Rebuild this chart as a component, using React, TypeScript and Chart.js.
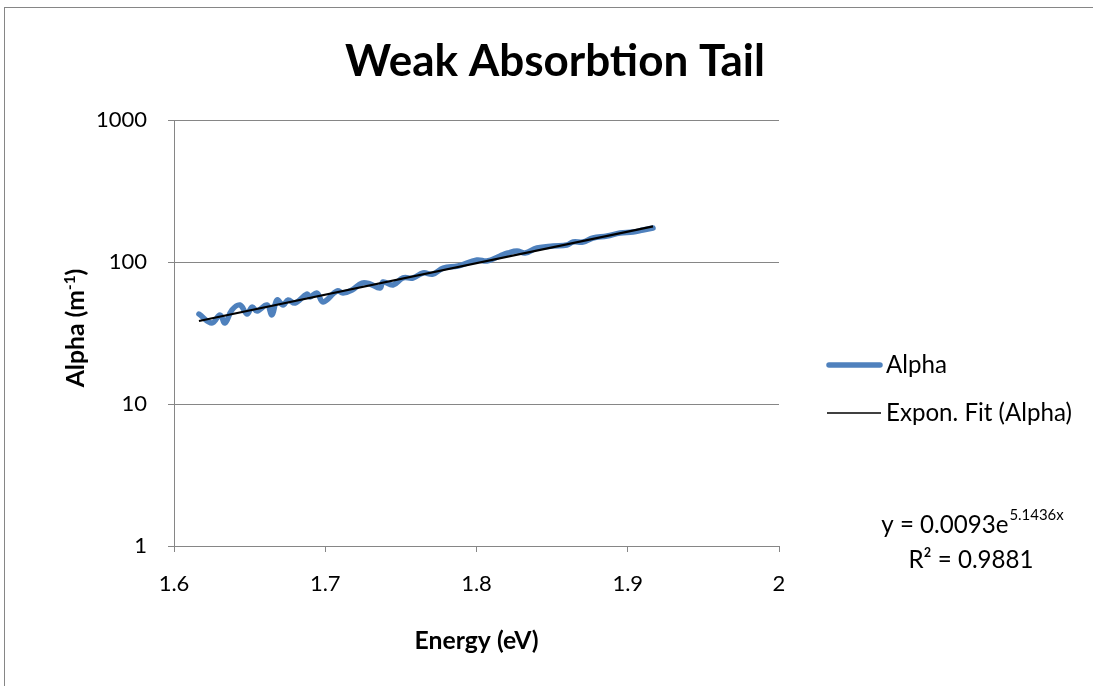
import React, { useEffect, useRef } from "react";
import { Chart, registerables } from "chart.js";

Chart.register(...registerables);

// ---- Data ----
const energy = [
  1.6165, 1.6251, 1.6304, 1.6337, 1.6383, 1.6436, 1.6483, 1.6516, 1.6549, 1.6615,
  1.6648, 1.6681, 1.6721, 1.6754, 1.68, 1.6879, 1.6899, 1.6945, 1.6985, 1.7078,
  1.7117, 1.7177, 1.7243, 1.7296, 1.7362, 1.7382, 1.7448, 1.7514, 1.758, 1.7646,
  1.7712, 1.7779, 1.7878, 1.8003, 1.8069, 1.8155, 1.8208, 1.8268, 1.8321, 1.84,
  1.8506, 1.8598, 1.8638, 1.8704, 1.877, 1.8863, 1.8949, 1.9035, 1.9101, 1.9167,
];
const alpha = [
  43.0, 37.2, 42.4, 37.2, 45.9, 49.8, 43.0, 48.2, 45.2, 49.8,
  42.4, 54.0, 49.8, 54.0, 51.4, 59.5, 56.7, 60.5, 52.3, 62.5,
  60.5, 63.5, 71.1, 70.0, 65.6, 72.3, 68.9, 77.2, 77.2, 83.7,
  82.3, 90.7, 93.7, 103.3, 101.6, 110.2, 115.7, 119.5, 115.7, 125.5,
  129.6, 131.8, 138.3, 138.3, 147.6, 152.4, 160.0, 162.6, 168.0, 173.5,
];
const fitEnergy = [1.6165, 1.9167];
const fitAlpha = [38.4, 178];

const xTickValues = [1.6, 1.7, 1.8, 1.9, 2.0];
const yTickValues = [1, 10, 100, 1000];
const seriesNames = ["Alpha", "Expon. Fit (Alpha)"];
const titleText = "Weak Absorbtion Tail";
const xTitleText = "Energy (eV)";
const yTitleMain = "Alpha (m";
const yTitleSup = "-1";
const yTitleEnd = ")";
const eqMain = "y = 0.0093e";
const eqSup = "5.1436x";
const r2Text = "R\u00B2 = 0.9881";

const FONT = "Lato, 'Open Sans', sans-serif";
const BLUE = "#4F81BD";
const GRAY = "#868686";

// font size so that `text` is `target` px wide
function fitSize(ctx: CanvasRenderingContext2D, text: string, weight: string, target: number) {
  ctx.font = `${weight} 100px ${FONT}`;
  const w = ctx.measureText(text).width;
  return (100 * target) / w;
}

const textPlugin = {
  id: "textPlugin",
  afterDraw(chart: any) {
    const ctx = chart.ctx as CanvasRenderingContext2D;
    const area = chart.chartArea;
    ctx.save();
    ctx.fillStyle = "#000";
    ctx.textBaseline = "alphabetic";

    // Title
    const ts = fitSize(ctx, titleText, "bold", 420);
    ctx.font = `bold ${ts}px ${FONT}`;
    ctx.textAlign = "center";
    ctx.fillText(titleText, 555, 76);

    // X axis title
    const xs = fitSize(ctx, xTitleText, "bold", 124);
    ctx.font = `bold ${xs}px ${FONT}`;
    ctx.fillText(xTitleText, (area.left + area.right) / 2, 649);

    // Y axis title (rotated, with superscript)
    ctx.save();
    ctx.translate(84, 328);
    ctx.rotate(-Math.PI / 2);
    ctx.textAlign = "left";
    const ys = xs;
    const yss = ys * 0.62;
    ctx.font = `bold ${ys}px ${FONT}`;
    const w1 = ctx.measureText(yTitleMain).width;
    ctx.font = `bold ${yss}px ${FONT}`;
    const w2 = ctx.measureText(yTitleSup).width;
    ctx.font = `bold ${ys}px ${FONT}`;
    const w3 = ctx.measureText(yTitleEnd).width;
    let sx = -(w1 + w2 + w3) / 2;
    ctx.fillText(yTitleMain, sx, 0);
    sx += w1;
    ctx.font = `bold ${yss}px ${FONT}`;
    ctx.fillText(yTitleSup, sx, -9);
    sx += w2;
    ctx.font = `bold ${ys}px ${FONT}`;
    ctx.fillText(yTitleEnd, sx, 0);
    ctx.restore();

    // Legend
    ctx.lineCap = "round";
    ctx.strokeStyle = BLUE;
    ctx.lineWidth = 5.5;
    ctx.beginPath();
    ctx.moveTo(829, 365);
    ctx.lineTo(880, 365);
    ctx.stroke();
    ctx.lineCap = "butt";
    ctx.strokeStyle = "#000";
    ctx.lineWidth = 1.5;
    ctx.beginPath();
    ctx.moveTo(827, 413);
    ctx.lineTo(881, 413);
    ctx.stroke();
    const ls = fitSize(ctx, seriesNames[1], "normal", 186);
    ctx.font = `${ls}px ${FONT}`;
    ctx.textAlign = "left";
    ctx.fillText(seriesNames[0], 886, 373);
    ctx.fillText(seriesNames[1], 886, 421);

    // Equation
    const es0 = ls;
    const esSup = es0 * 0.62;
    ctx.font = `${es0}px ${FONT}`;
    const em = ctx.measureText(eqMain).width;
    ctx.font = `${esSup}px ${FONT}`;
    const es = ctx.measureText(eqSup).width;
    const ex = 972 - (em + es) / 2;
    ctx.font = `${es0}px ${FONT}`;
    ctx.fillText(eqMain, ex, 533);
    ctx.font = `${esSup}px ${FONT}`;
    ctx.fillText(eqSup, ex + em + 1, 520);
    ctx.font = `${es0}px ${FONT}`;
    ctx.textAlign = "center";
    ctx.fillText(r2Text, 971, 568);

    ctx.restore();
  },
};

export default function App() {
  const canvasRef = useRef<HTMLCanvasElement | null>(null);

  useEffect(() => {
    if (!canvasRef.current) return;
    const alphaPoints = energy.map((e, i) => ({ x: e, y: alpha[i] }));
    const fitPoints = fitEnergy.map((e, i) => ({ x: e, y: fitAlpha[i] }));
    const chart = new Chart(canvasRef.current, {
      type: "line",
      data: {
        datasets: [
          {
            label: seriesNames[0],
            data: alphaPoints,
            borderColor: BLUE,
            backgroundColor: BLUE,
            borderWidth: 5.5,
            pointRadius: 0,
            tension: 0.4,
            borderCapStyle: "round",
            borderJoinStyle: "round",
            fill: false,
            order: 2,
          },
          {
            label: seriesNames[1],
            data: fitPoints,
            borderColor: "#000",
            backgroundColor: "#000",
            borderWidth: 2.2,
            pointRadius: 0,
            tension: 0,
            fill: false,
            order: 1,
          },
        ],
      },
      options: {
        responsive: false,
        animation: false,
        devicePixelRatio: 1,
        layout: { padding: { left: 0, top: 120, right: 314, bottom: 0 } },
        plugins: {
          legend: { display: false },
          title: { display: false },
          tooltip: { enabled: false },
        },
        scales: {
          x: {
            type: "linear",
            min: 1.6,
            max: 2.0,
            afterBuildTicks: (scale: any) => {
              scale.ticks = xTickValues.map((v) => ({ value: v }));
            },
            afterFit: (scale: any) => {
              scale.height = 140;
            },
            ticks: {
              color: "#000",
              font: { family: FONT, size: 22 },
              padding: 19,
              maxRotation: 0,
              callback: (v: any) => String(Math.round(Number(v) * 10) / 10),
            },
            grid: {
              drawOnChartArea: false,
              drawTicks: true,
              tickLength: 6,
              color: GRAY,
            },
            border: { display: true, color: GRAY, width: 1 },
          },
          y: {
            type: "logarithmic",
            min: 1,
            max: 1000,
            afterBuildTicks: (scale: any) => {
              scale.ticks = yTickValues.map((v) => ({ value: v }));
            },
            afterFit: (scale: any) => {
              scale.width = 174;
            },
            ticks: {
              color: "#000",
              font: { family: FONT, size: 22 },
              padding: 21,
              callback: (v: any) => String(v),
            },
            grid: {
              drawOnChartArea: true,
              drawTicks: true,
              tickLength: 6,
              color: GRAY,
            },
            border: { display: true, color: GRAY, width: 1 },
          },
        },
      },
      plugins: [textPlugin],
    } as any);
    return () => chart.destroy();
  }, []);

  return (
    <div
      style={{
        position: "absolute",
        left: 0,
        top: 0,
        width: 1093,
        height: 686,
        overflow: "hidden",
        background: "#fff",
      }}
    >
      <div
        style={{
          position: "absolute",
          left: 4,
          top: 7,
          width: 1200,
          height: 800,
          border: `1px solid ${GRAY}`,
          boxSizing: "border-box",
        }}
      />
      <canvas
        ref={canvasRef}
        width={1093}
        height={686}
        style={{ position: "absolute", left: 0, top: 0, width: 1093, height: 686 }}
      />
    </div>
  );
}
